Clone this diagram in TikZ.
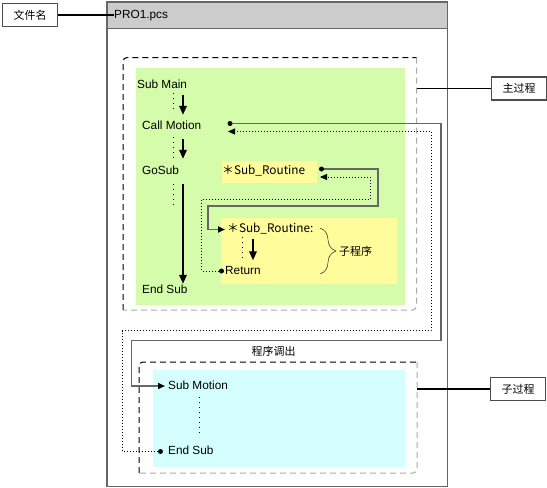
\documentclass[tikz,border=0pt]{standalone}
\usepackage{fontspec}
\setmainfont{Liberation Sans}
\newfontfamily\cjk{Noto Sans CJK SC}
\usetikzlibrary{arrows.meta,decorations.pathreplacing}
\definecolor{headgray}{HTML}{CCCCCC}
\definecolor{framegray}{HTML}{666666}
\definecolor{shadegray}{HTML}{AAAAAA}
\definecolor{maingreen}{HTML}{D4FCAA}
\definecolor{subyellow}{HTML}{FFFC9C}
\definecolor{subcyan}{HTML}{D4FFFE}

\begin{document}
\begin{tikzpicture}[x=1pt,y=-1pt,
    every node/.style={font=\fontsize{11.8}{13}\selectfont},
    txt/.style={anchor=west,inner sep=0pt,text height=8.5pt,text depth=2.5pt},
    cjktxt/.style={inner sep=0pt,font=\cjk\fontsize{11}{13}\selectfont},
    tag/.style={draw=black!70,line width=1.5pt,fill=white,minimum width=55pt,minimum height=23pt,inner sep=0pt,font=\cjk\fontsize{11}{13}\selectfont},
    flow/.style={line width=1.8pt,-{Triangle[length=9pt,width=7.5pt]}},
    colon/.style={line width=1pt,dash pattern=on 1pt off 4pt},
    frame/.style={dash pattern=on 6pt off 4pt,line width=1pt,rounded corners=4pt},
    call/.style={framegray,line width=1.6pt,-{Triangle[length=7pt,width=6pt,color=black]},shorten >=3pt},
    back/.style={line width=1pt,dotted,-{Triangle[length=7pt,width=6pt]}}]

    \useasboundingbox (0,0) rectangle (547,488);

    % Draw file frame and header
    \draw[framegray,line width=1.5pt,fill=white] (107,2) rectangle (447.5,486.5);
    \draw[framegray,line width=1.5pt,fill=headgray] (107,2) rectangle (447.5,28.5);
    \node[txt] (file) at (114,15) {PRO1.pcs};

    % File name tag
    \node[tag] (filetag) at (30,15) {文件名};
    \draw[line width=1.5pt] (filetag.east) -- (file.west);

    % Main procedure area
    \fill[maingreen] (135.5,67.5) rectangle (405,305);
    \draw[frame] (123,310) -- (123,57.5) -- (416.5,57.5);
    \draw[frame,shadegray] (416.5,57.5) -- (416.5,310) -- (123,310);
    \coordinate (mainedge) at (416.5,88.5);
    \node[tag] (maintag) at (519,88.5) {主过程};
    \draw[line width=1.5pt] (mainedge) -- (maintag.west);

    % Subroutine boxes
    \fill[subyellow] (222,161) rectangle (317,183);
    \fill[subyellow] (221,218) rectangle (397,284);

    % Main procedure lines
    \node[txt] (submain) at (137,85.5) {Sub Main};
    \node[txt] (callm) at (142,126.5) {Call Motion};
    \node[txt] (gosub) at (142,171) {GoSub};
    \node[txt] (endmain) at (142,290.5) {End Sub};
    \node[txt] (subcall) at (222,171.5) {\cjk{＊}Sub\_Routine};
    \node[txt] (subdef) at (227,229.5) {\cjk{＊}Sub\_Routine:};
    \node[txt] (ret) at (225,271.5) {Return};

    % Colons and flow arrows
    \draw[colon] (173,93) -- (173,113);
    \draw[colon] (173,137) -- (173,159);
    \draw[colon] (173,184) -- (173,207);
    \draw[colon] (242,237) -- (242,260);
    \draw[flow,shorten <=4pt,shorten >=6pt] (183,0 |- submain.south) -- (183,0 |- callm.north);
    \draw[flow,shorten <=7pt,shorten >=6.5pt] (183,0 |- callm.south) -- (183,0 |- gosub.north);
    \draw[flow,shorten <=7.5pt,shorten >=1pt] (183,0 |- gosub.south) -- (183,0 |- endmain.north);
    \draw[flow,shorten <=4pt,shorten >=5.5pt] (253,0 |- subdef.south) -- (253,0 |- ret.north);

    % Brace for the subroutine
    \draw[decorate,decoration={brace,amplitude=16pt,aspect=0.5}] (320,228) -- (320,274);
    \node[cjktxt,anchor=west] (sublabel) at (339,251) {子程序};

    % Sub procedure area
    \node[cjktxt] (callname) at (273.5,351.5) {程序调出};
    \fill[subcyan] (152.5,370) rectangle (405,467);
    \draw[frame] (139,473) -- (139,362) -- (417,362);
    \draw[frame,shadegray] (417,362) -- (417,473) -- (139,473);
    \node[txt] (submot) at (168,386) {Sub Motion};
    \node[txt] (endsub) at (168,451.5) {End Sub};
    \draw[colon] (199,397) -- (199,437);
    \coordinate (subedge) at (417,389);
    \node[tag] (subtag) at (518,389) {子过程};
    \draw[line width=1.5pt] (subedge) -- (subtag.west);

    % Call to Motion and back
    \coordinate (callout) at (230,123.5);
    \coordinate (callin) at (228,131.5);
    \coordinate (endout) at (160.5,451.5);
    \draw[call] (callout) -| (441,340.5) -- (131.5,340.5) |- (submot.west);
    \draw[back] (endout) -| (122,330.5) -| (431,131.5) -- (callin);
    \fill (callout) circle (2.5pt);
    \fill (endout) circle (2.5pt);

    % GoSub to Sub_Routine and back
    \coordinate (subout) at (321.5,169);
    \coordinate (subin) at (320,177);
    \coordinate (retout) at (221.5,271);
    \draw[call,shorten >=2pt] (subout) -| (378,206) -- (208,206) |- (subdef.west);
    \draw[back] (retout) -| (201.5,199) -| (370,177) -- (subin);
    \fill (subout) circle (2.5pt);
    \fill (retout) circle (2.5pt);
\end{tikzpicture}
\end{document}
